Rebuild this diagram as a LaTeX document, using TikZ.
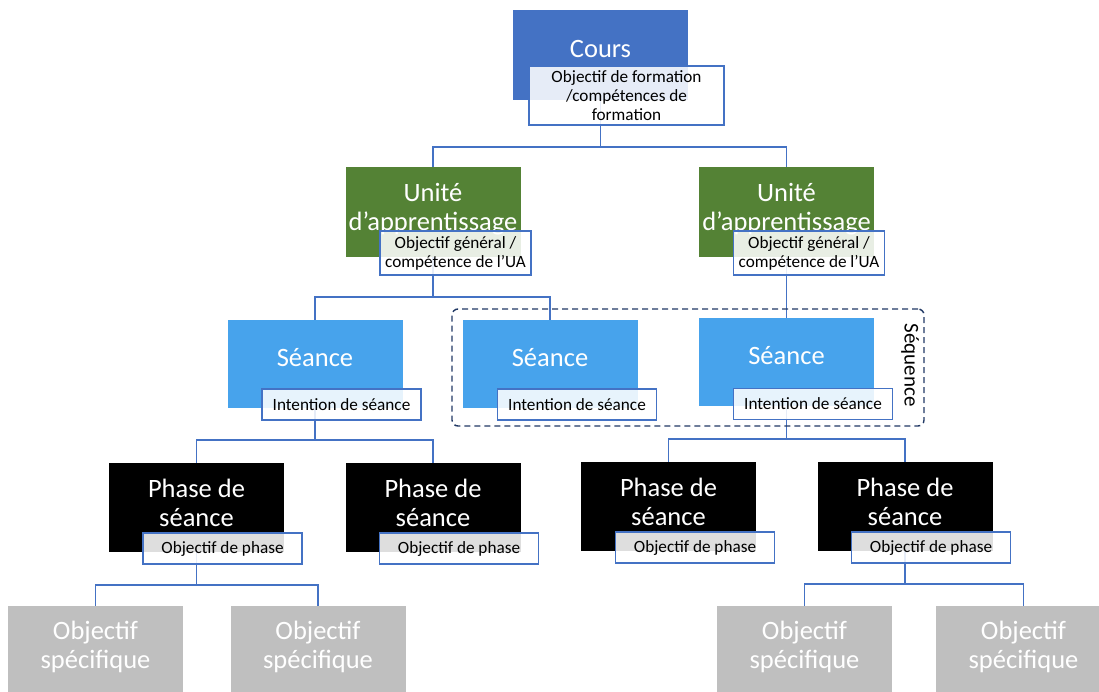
\documentclass[tikz,border=0pt]{standalone}
\usepackage{fontspec}
\setmainfont{Carlito}
\usetikzlibrary{positioning,backgrounds,calc}

\definecolor{coursblue}{HTML}{4472C4}
\definecolor{uagreen}{HTML}{548235}
\definecolor{seanceblue}{HTML}{47A3EC}
\definecolor{objgray}{HTML}{BFBFBF}
\definecolor{seqnavy}{HTML}{203864}

\begin{document}
\begin{tikzpicture}[x=1pt,y=-1pt,
  every node/.style={align=center,inner sep=0pt},
  box/.style={minimum width=175,minimum height=89},
  cours/.style={box,fill=coursblue,minimum height=90},
  unit/.style={box,fill=uagreen,minimum height=90},
  seance/.style={box,fill=seanceblue,minimum height=88},
  phase/.style={box,fill=black},
  spec/.style={box,fill=objgray,minimum height=88},
  big/.style={text=white,font=\fontsize{26.5}{29}\selectfont},
  small/.style={font=\fontsize{17.2}{19}\selectfont},
  tag/.style={small,draw=coursblue,line width=1.3pt,fill=white,fill opacity=.87,
    text opacity=1,minimum width=159,minimum height=31},
  link/.style={draw=coursblue,line width=1.5pt},
  seqbox/.style={draw=seqnavy,line width=1.4pt,dash pattern=on 6pt off 4pt,rounded corners=6pt}]

    \useasboundingbox (0,0) rectangle (1099,691);

    % cours
    \node[cours] (cours) at (600.5,55) {};
    \node[big] (coursT) at ([yshift=6pt]cours.center) {Cours};
    \node[tag,minimum width=195,minimum height=59] (coursO) at (626.5,95.5)
        {Objectif de formation\\/compétences de\\formation};

    % unites d'apprentissage
    \node[unit] (ua1) at (433,212) {};
    \node[big] (ua1T) at ([yshift=3pt]ua1.center) {Unité\\d’apprentissage};
    \node[tag,minimum width=151,minimum height=44] (ua1O) at (455.5,253)
        {Objectif général /\\compétence de l’UA};

    \node[unit] (ua2) at (786.5,212) {};
    \node[big] (ua2T) at ([yshift=3pt]ua2.center) {Unité\\d’apprentissage};
    \node[tag,minimum width=151,minimum height=44] (ua2O) at (809,253)
        {Objectif général /\\compétence de l’UA};

    % seances
    \node[seance] (s1) at (315,364) {};
    \node[big] (s1T) at ([yshift=6pt]s1.center) {Séance};
    \node[tag] (s1O) at (341.5,404.5) {Intention de séance};

    \node[seance] (s2) at (550,364) {};
    \node[big] (s2T) at ([yshift=6pt]s2.center) {Séance};
    \node[tag] (s2O) at (577,404.5) {Intention de séance};

    \node[seance] (s3) at (786.5,362) {};
    \node[big] (s3T) at ([yshift=6pt]s3.center) {Séance};
    \node[tag] (s3O) at (813,404) {Intention de séance};

    \node[seqbox,minimum width=472,minimum height=117] (seq) at (688,367.5) {};
    \node[font=\fontsize{21}{24}\selectfont,rotate=-90] (seqT) at (910,365) {Séquence};

    % phases
    \node[phase] (p1) at (196.5,507.5) {};
    \node[big] (p1T) at ([yshift=5pt]p1.center) {Phase de\\séance};
    \node[tag] (p1O) at (222.5,548.5) {Objectif de phase};

    \node[phase] (p2) at (433,507.5) {};
    \node[big] (p2T) at ([yshift=5pt]p2.center) {Phase de\\séance};
    \node[tag] (p2O) at (459,548.5) {Objectif de phase};

    \node[phase] (p3) at (668.5,506.5) {};
    \node[big] (p3T) at ([yshift=5pt]p3.center) {Phase de\\séance};
    \node[tag] (p3O) at (695,547.5) {Objectif de phase};

    \node[phase] (p4) at (905,506.5) {};
    \node[big] (p4T) at ([yshift=5pt]p4.center) {Phase de\\séance};
    \node[tag] (p4O) at (931,547.5) {Objectif de phase};

    % objectifs specifiques
    \node[spec] (o1) at (95.5,650) {};
    \node[big] (o1T) at ([yshift=3pt]o1.center) {Objectif\\spécifique};
    \node[spec] (o2) at (318,650) {};
    \node[big] (o2T) at ([yshift=3pt]o2.center) {Objectif\\spécifique};
    \node[spec] (o3) at (804.5,650) {};
    \node[big] (o3T) at ([yshift=3pt]o3.center) {Objectif\\spécifique};
    \node[spec] (o4) at (1023.5,650) {};
    \node[big] (o4T) at ([yshift=3pt]o4.center) {Objectif\\spécifique};

    \begin{pgfonlayer}{background}
        \draw[link] (cours) -- (cours |- 0,147) -| (ua1);
        \draw[link] (cours |- 0,147) -| (ua2);
        \draw[link] (ua1) -- (ua1 |- 0,297) -| (s1);
        \draw[link] (ua1 |- 0,297) -| (s2);
        \draw[link] (ua2) -- (s3);
        \draw[link] (s1) -- (s1 |- 0,440) -| (p1);
        \draw[link] (s1 |- 0,440) -| (p2);
        \draw[link] (s3) -- (s3 |- 0,439) -| (p3);
        \draw[link] (s3 |- 0,439) -| (p4);
        \draw[link] (p1) -- (p1 |- 0,585) -| (o1);
        \draw[link] (p1 |- 0,585) -| (o2);
        \draw[link] (p4) -- (p4 |- 0,584) -| (o3);
        \draw[link] (p4 |- 0,584) -| (o4);
    \end{pgfonlayer}
\end{tikzpicture}
\end{document}
